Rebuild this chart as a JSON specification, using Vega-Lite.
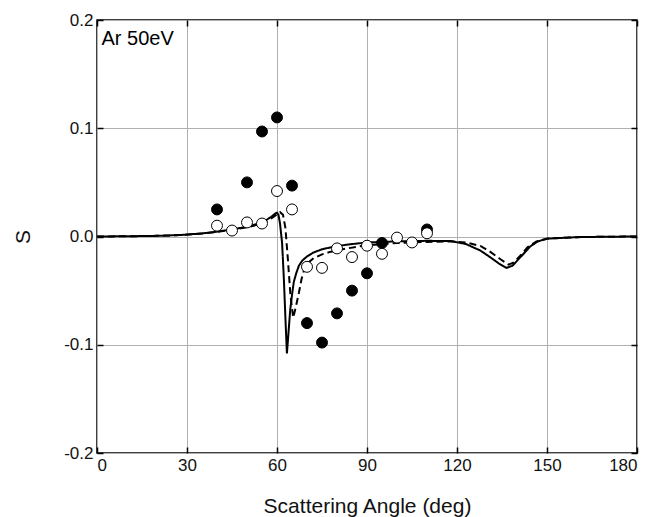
{
  "$schema": "https://vega.github.io/schema/vega-lite/v6.json",
  "autosize": {"type": "none"},
  "padding": {"left": 97, "top": 20, "right": 14, "bottom": 64},
  "width": 540,
  "height": 433,
  "config": {
    "font": "Liberation Sans",
    "view": {"stroke": "black", "strokeWidth": 1.5},
    "axis": {
      "gridColor": "#b0b0b0",
      "gridWidth": 1,
      "gridOpacity": 1,
      "domain": false,
      "tickColor": "black",
      "tickWidth": 1.5,
      "labelFont": "Liberation Sans",
      "labelFontSize": 17,
      "labelColor": "#111",
      "titleFont": "Liberation Sans",
      "titleFontSize": 21,
      "titleFontWeight": "normal",
      "titleColor": "#111"
    }
  },
  "resolve": {"axis": {"x": "independent", "y": "independent"}},
  "datasets": {
    "curves": [
      {"angle": 0, "S": 0, "model": "solid"},
      {"angle": 10, "S": 0.0002, "model": "solid"},
      {"angle": 20, "S": 0.0006, "model": "solid"},
      {"angle": 28, "S": 0.0014, "model": "solid"},
      {"angle": 35, "S": 0.0028, "model": "solid"},
      {"angle": 40, "S": 0.0045, "model": "solid"},
      {"angle": 45, "S": 0.0065, "model": "solid"},
      {"angle": 50, "S": 0.009, "model": "solid"},
      {"angle": 54, "S": 0.012, "model": "solid"},
      {"angle": 56, "S": 0.0145, "model": "solid"},
      {"angle": 58, "S": 0.018, "model": "solid"},
      {"angle": 59.3, "S": 0.021, "model": "solid"},
      {"angle": 60, "S": 0.022, "model": "solid"},
      {"angle": 60.5, "S": 0.02, "model": "solid"},
      {"angle": 61, "S": 0.012, "model": "solid"},
      {"angle": 61.7, "S": -0.006, "model": "solid"},
      {"angle": 62.3, "S": -0.04, "model": "solid"},
      {"angle": 62.8, "S": -0.075, "model": "solid"},
      {"angle": 63.3, "S": -0.108, "model": "solid"},
      {"angle": 63.8, "S": -0.09, "model": "solid"},
      {"angle": 64.4, "S": -0.068, "model": "solid"},
      {"angle": 65, "S": -0.054, "model": "solid"},
      {"angle": 65.6, "S": -0.042, "model": "solid"},
      {"angle": 66.4, "S": -0.034, "model": "solid"},
      {"angle": 67.3, "S": -0.027, "model": "solid"},
      {"angle": 68.5, "S": -0.022, "model": "solid"},
      {"angle": 70, "S": -0.0185, "model": "solid"},
      {"angle": 72, "S": -0.015, "model": "solid"},
      {"angle": 75, "S": -0.0118, "model": "solid"},
      {"angle": 80, "S": -0.0088, "model": "solid"},
      {"angle": 85, "S": -0.007, "model": "solid"},
      {"angle": 90, "S": -0.0055, "model": "solid"},
      {"angle": 100, "S": -0.0045, "model": "solid"},
      {"angle": 110, "S": -0.004, "model": "solid"},
      {"angle": 118, "S": -0.0042, "model": "solid"},
      {"angle": 123, "S": -0.007, "model": "solid"},
      {"angle": 127.8, "S": -0.013, "model": "solid"},
      {"angle": 131, "S": -0.019, "model": "solid"},
      {"angle": 134, "S": -0.025, "model": "solid"},
      {"angle": 136.5, "S": -0.029, "model": "solid"},
      {"angle": 138.5, "S": -0.027, "model": "solid"},
      {"angle": 140.5, "S": -0.021, "model": "solid"},
      {"angle": 142.5, "S": -0.015, "model": "solid"},
      {"angle": 144.5, "S": -0.009, "model": "solid"},
      {"angle": 147, "S": -0.0045, "model": "solid"},
      {"angle": 150, "S": -0.002, "model": "solid"},
      {"angle": 160, "S": -0.0006, "model": "solid"},
      {"angle": 170, "S": -0.0002, "model": "solid"},
      {"angle": 180, "S": 0, "model": "solid"},
      {"angle": 0, "S": 0, "model": "dashed"},
      {"angle": 10, "S": 0.0002, "model": "dashed"},
      {"angle": 20, "S": 0.0006, "model": "dashed"},
      {"angle": 28, "S": 0.0014, "model": "dashed"},
      {"angle": 35, "S": 0.0028, "model": "dashed"},
      {"angle": 40, "S": 0.0043, "model": "dashed"},
      {"angle": 45, "S": 0.0062, "model": "dashed"},
      {"angle": 50, "S": 0.0085, "model": "dashed"},
      {"angle": 54, "S": 0.0112, "model": "dashed"},
      {"angle": 56, "S": 0.0135, "model": "dashed"},
      {"angle": 58, "S": 0.0165, "model": "dashed"},
      {"angle": 60, "S": 0.0205, "model": "dashed"},
      {"angle": 61, "S": 0.0225, "model": "dashed"},
      {"angle": 62, "S": 0.02, "model": "dashed"},
      {"angle": 62.8, "S": 0.008, "model": "dashed"},
      {"angle": 63.6, "S": -0.02, "model": "dashed"},
      {"angle": 64.5, "S": -0.055, "model": "dashed"},
      {"angle": 65.4, "S": -0.075, "model": "dashed"},
      {"angle": 66.2, "S": -0.066, "model": "dashed"},
      {"angle": 67.3, "S": -0.052, "model": "dashed"},
      {"angle": 68.2, "S": -0.039, "model": "dashed"},
      {"angle": 69, "S": -0.031, "model": "dashed"},
      {"angle": 70.5, "S": -0.024, "model": "dashed"},
      {"angle": 72.2, "S": -0.02, "model": "dashed"},
      {"angle": 75, "S": -0.0165, "model": "dashed"},
      {"angle": 78, "S": -0.014, "model": "dashed"},
      {"angle": 83.4, "S": -0.011, "model": "dashed"},
      {"angle": 90, "S": -0.008, "model": "dashed"},
      {"angle": 100, "S": -0.006, "model": "dashed"},
      {"angle": 110, "S": -0.005, "model": "dashed"},
      {"angle": 118, "S": -0.0045, "model": "dashed"},
      {"angle": 123, "S": -0.0055, "model": "dashed"},
      {"angle": 127.8, "S": -0.0087, "model": "dashed"},
      {"angle": 131, "S": -0.014, "model": "dashed"},
      {"angle": 134.5, "S": -0.021, "model": "dashed"},
      {"angle": 137.2, "S": -0.026, "model": "dashed"},
      {"angle": 139, "S": -0.024, "model": "dashed"},
      {"angle": 141, "S": -0.018, "model": "dashed"},
      {"angle": 143.5, "S": -0.01, "model": "dashed"},
      {"angle": 146.5, "S": -0.0045, "model": "dashed"},
      {"angle": 150, "S": -0.002, "model": "dashed"},
      {"angle": 160, "S": -0.0006, "model": "dashed"},
      {"angle": 170, "S": -0.0002, "model": "dashed"},
      {"angle": 180, "S": 0, "model": "dashed"}
    ],
    "points": [
      {"angle": 40, "S": 0.025, "set": "filled"},
      {"angle": 50, "S": 0.05, "set": "filled"},
      {"angle": 55, "S": 0.097, "set": "filled"},
      {"angle": 60, "S": 0.11, "set": "filled"},
      {"angle": 65, "S": 0.047, "set": "filled"},
      {"angle": 70, "S": -0.08, "set": "filled"},
      {"angle": 75, "S": -0.098, "set": "filled"},
      {"angle": 80, "S": -0.071, "set": "filled"},
      {"angle": 85, "S": -0.05, "set": "filled"},
      {"angle": 90, "S": -0.034, "set": "filled"},
      {"angle": 95, "S": -0.006, "set": "filled"},
      {"angle": 110, "S": 0.0065, "set": "filled"},
      {"angle": 40, "S": 0.01, "set": "open"},
      {"angle": 45, "S": 0.0055, "set": "open"},
      {"angle": 50, "S": 0.013, "set": "open"},
      {"angle": 55, "S": 0.012, "set": "open"},
      {"angle": 60, "S": 0.042, "set": "open"},
      {"angle": 65, "S": 0.025, "set": "open"},
      {"angle": 70, "S": -0.028, "set": "open"},
      {"angle": 75, "S": -0.029, "set": "open"},
      {"angle": 80, "S": -0.011, "set": "open"},
      {"angle": 85, "S": -0.019, "set": "open"},
      {"angle": 90, "S": -0.0085, "set": "open"},
      {"angle": 95, "S": -0.016, "set": "open"},
      {"angle": 100, "S": -0.001, "set": "open"},
      {"angle": 105, "S": -0.0055, "set": "open"},
      {"angle": 110, "S": 0.003, "set": "open"}
    ],
    "label": [
      {"angle": 1.5, "S": 0.182, "text": "Ar 50eV"}
    ]
  },
  "layer": [
    {
      "data": {"name": "curves"},
      "mark": {"type": "line", "color": "black", "strokeWidth": 2, "clip": true},
      "encoding": {
        "x": {
          "field": "angle", "type": "quantitative",
          "scale": {"domain": [0, 180], "nice": false, "zero": false},
          "axis": {
            "orient": "bottom",
            "values": [0, 30, 60, 90, 120, 150, 180],
            "title": "Scattering Angle (deg)",
            "tickSize": -6,
            "labelPadding": 10,
            "titlePadding": 22
          }
        },
        "y": {
          "field": "S", "type": "quantitative",
          "scale": {"domain": [-0.2, 0.2], "nice": false},
          "axis": {
            "orient": "left",
            "values": [-0.2, -0.1, 0, 0.1, 0.2],
            "labelExpr": "replace(format(datum.value, '.1f'), '\u2212', '-')",
            "title": "S",
            "tickSize": -6,
            "labelPadding": 10,
            "titlePadding": 30
          }
        },
        "detail": {"field": "model"},
        "strokeDash": {
          "field": "model", "type": "nominal",
          "scale": {"domain": ["solid", "dashed"], "range": [[1, 0], [7, 4]]},
          "legend": null
        }
      }
    },
    {
      "data": {"name": "points"},
      "mark": {"type": "point", "shape": "circle", "size": 120, "stroke": "black", "strokeWidth": 1, "opacity": 1},
      "encoding": {
        "x": {
          "field": "angle", "type": "quantitative",
          "axis": {
            "orient": "top",
            "values": [0, 30, 60, 90, 120, 150, 180],
            "labels": false,
            "grid": false,
            "title": null,
            "tickSize": -6
          }
        },
        "y": {
          "field": "S", "type": "quantitative",
          "axis": {
            "orient": "right",
            "values": [-0.2, -0.1, 0, 0.1, 0.2],
            "labels": false,
            "grid": false,
            "title": null,
            "tickSize": -6
          }
        },
        "fill": {
          "field": "set", "type": "nominal",
          "scale": {"domain": ["filled", "open"], "range": ["black", "white"]},
          "legend": null
        }
      }
    },
    {
      "data": {"name": "label"},
      "mark": {"type": "text", "align": "left", "baseline": "middle", "fontSize": 20, "font": "Liberation Sans", "color": "black"},
      "encoding": {
        "x": {"field": "angle", "type": "quantitative", "axis": null},
        "y": {"field": "S", "type": "quantitative", "axis": null},
        "text": {"field": "text"}
      }
    }
  ]
}
